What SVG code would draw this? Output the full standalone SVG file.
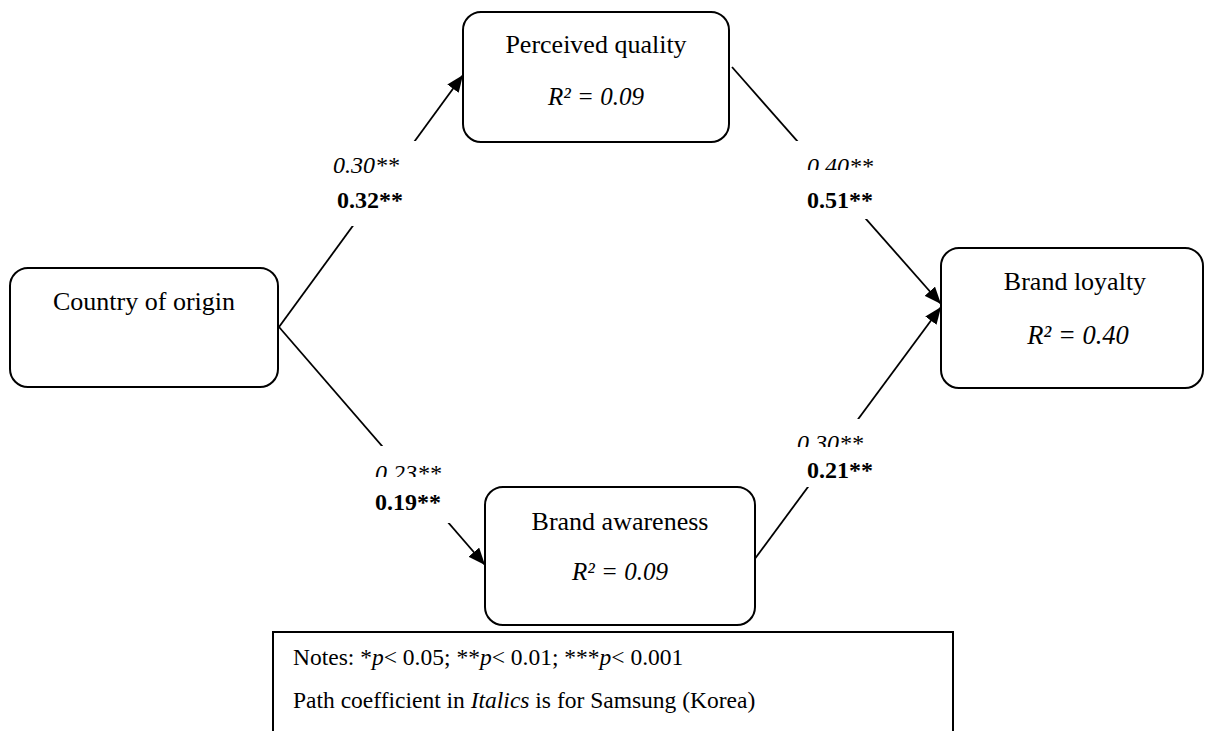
<svg xmlns="http://www.w3.org/2000/svg" width="1205" height="731" viewBox="0 0 1205 731">
<style>
.box{fill:#fff;stroke:#000;stroke-width:2}
.name{font-family:"Liberation Serif","Times New Roman",serif;font-size:26px;fill:#000;text-anchor:middle}
.r2{font-family:"Liberation Serif","Times New Roman",serif;font-size:25px;font-style:italic;fill:#000;text-anchor:middle}
.it{font-family:"Liberation Serif","Times New Roman",serif;font-size:24px;font-style:italic;fill:#000}
.bd{font-family:"Liberation Serif","Times New Roman",serif;font-size:24px;font-weight:bold;fill:#000}
.note{font-family:"Liberation Serif","Times New Roman",serif;font-size:23.5px;fill:#000}
.conn{stroke:#000;stroke-width:1.8;fill:none}
.bg{fill:#fff;stroke:none}
</style>
<defs>
<marker id="arr" markerUnits="userSpaceOnUse" markerWidth="18" markerHeight="14" refX="17" refY="7" orient="auto">
<path d="M0,0 L17,7 L0,14 z" fill="#000"/>
</marker>
</defs>
<rect width="1205" height="731" fill="#fff"/>
<g id="connectors">
<line class="conn" x1="279" y1="327" x2="463" y2="75" marker-end="url(#arr)"/>
<line class="conn" x1="279" y1="327" x2="485" y2="565" marker-end="url(#arr)"/>
<line class="conn" x1="732" y1="67" x2="941" y2="304" marker-end="url(#arr)"/>
<line class="conn" x1="754" y1="560" x2="941" y2="307" marker-end="url(#arr)"/>
</g>
<g id="label-coo-pq">
<rect class="bg" x="322" y="141" width="96" height="40"/>
<text class="it" x="333" y="173">0.30**</text>
<rect class="bg" x="322" y="181" width="96" height="45"/>
<text class="bd" x="337" y="208">0.32**</text>
</g>
<g id="label-pq-bl">
<rect class="bg" x="790" y="141" width="90" height="29"/>
<text class="it" x="807" y="174">0.40**</text>
<rect class="bg" x="790" y="170" width="90" height="49"/>
<text class="bd" x="807" y="208">0.51**</text>
</g>
<g id="label-coo-ba">
<rect class="bg" x="370" y="446" width="86" height="31"/>
<text class="it" x="375" y="481">0.23**</text>
<rect class="bg" x="370" y="477" width="86" height="46"/>
<text class="bd" x="375" y="510">0.19**</text>
</g>
<g id="label-ba-bl">
<rect class="bg" x="790" y="419" width="80" height="28"/>
<text class="it" x="797" y="451">0.30**</text>
<rect class="bg" x="790" y="447" width="80" height="40"/>
<text class="bd" x="807" y="478">0.21**</text>
</g>
<g id="node-perceived-quality">
<rect class="box" x="463" y="12" width="266" height="130" rx="18"/>
<text class="name" x="596" y="53">Perceived quality</text>
<text class="r2" x="596" y="105">R² = 0.09</text>
</g>
<g id="node-country-of-origin">
<rect class="box" x="10" y="268" width="268" height="119" rx="18"/>
<text class="name" x="144" y="310">Country of origin</text>
</g>
<g id="node-brand-loyalty">
<rect class="box" x="941" y="248" width="262" height="140" rx="18"/>
<text class="name" x="1075" y="290">Brand loyalty</text>
<text class="r2" x="1078" y="344" style="font-size:26.5px">R² = 0.40</text>
</g>
<g id="node-brand-awareness">
<rect class="box" x="485" y="487" width="270" height="138" rx="18"/>
<text class="name" x="620" y="530">Brand awareness</text>
<text class="r2" x="620" y="580">R² = 0.09</text>
</g>
<g id="notes">
<rect class="box" x="273" y="632" width="680" height="130"/>
<text class="note" x="293" y="665">Notes: *<tspan font-style="italic">p</tspan>&lt; 0.05; **<tspan font-style="italic">p</tspan>&lt; 0.01; ***<tspan font-style="italic">p</tspan>&lt; 0.001</text>
<text class="note" x="293" y="708">Path coefficient in <tspan font-style="italic">Italics</tspan> is for Samsung (Korea)</text>
</g>
</svg>
